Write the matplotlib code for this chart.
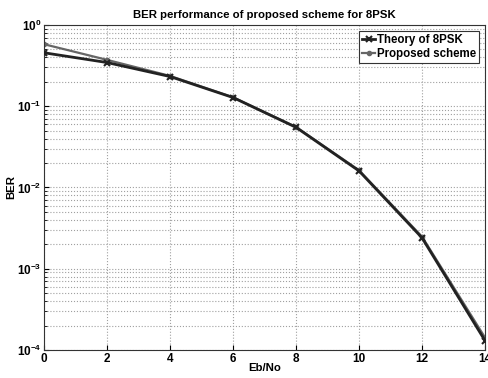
import numpy as np
import matplotlib
matplotlib.use("Agg")
import matplotlib.pyplot as plt
from matplotlib.ticker import LogLocator, NullFormatter

ebno = [0, 2, 4, 6, 8, 10, 12, 14]
ber_theory = [0.455, 0.345, 0.232, 0.128, 0.0550, 0.0160, 0.00240, 0.000130]
ber_proposed = [0.580, 0.372, 0.236, 0.129, 0.0556, 0.0163, 0.00248, 0.000142]

plt.rcParams['font.family'] = ['Liberation Sans', 'DejaVu Sans']
plt.rcParams['font.weight'] = 'bold'
plt.rcParams['mathtext.default'] = 'bf'

fig = plt.figure(figsize=(4.88, 3.78), dpi=100)
ax = fig.add_axes([0.090, 0.074, 0.904, 0.860])

ax.semilogy(ebno, ber_theory, color='#222222', lw=2.0, marker='x', ms=5, mew=1.5,
            label='Theory of 8PSK', zorder=3)
ax.semilogy(ebno, ber_proposed, color='#666666', lw=1.6, marker='o', ms=3,
            label='Proposed scheme', zorder=2)

ax.set_xlim(0, 14)
ax.set_ylim(1e-4, 1)
ax.set_xticks(ebno)
ax.yaxis.set_major_locator(LogLocator(base=10, numticks=10))
ax.yaxis.set_minor_locator(LogLocator(base=10, subs=np.arange(2, 10), numticks=10))
ax.yaxis.set_minor_formatter(NullFormatter())
ax.grid(True, which='both', color='#a0a0a0', linestyle=':', lw=0.8)
ax.tick_params(which='both', direction='in', labelsize=8.5, pad=2)
ax.tick_params(which='minor', length=2)
for s in ax.spines.values():
    s.set_color('#333333')

ax.set_title('BER performance of proposed scheme for 8PSK', fontsize=8.2,
             fontweight='bold', pad=5)
ax.set_xlabel('Eb/No', fontsize=8.2, fontweight='bold', labelpad=-1)
ax.set_ylabel('BER', fontsize=8.2, fontweight='bold', labelpad=0)

leg = ax.legend(loc='upper right', fontsize=8.3, fancybox=False, framealpha=1,
                edgecolor='#333333', handlelength=1.1, handletextpad=0.2,
                borderpad=0.25, labelspacing=0.25, borderaxespad=0.5)
leg.get_frame().set_linewidth(0.8)

fig.savefig('out.png', dpi=100)
